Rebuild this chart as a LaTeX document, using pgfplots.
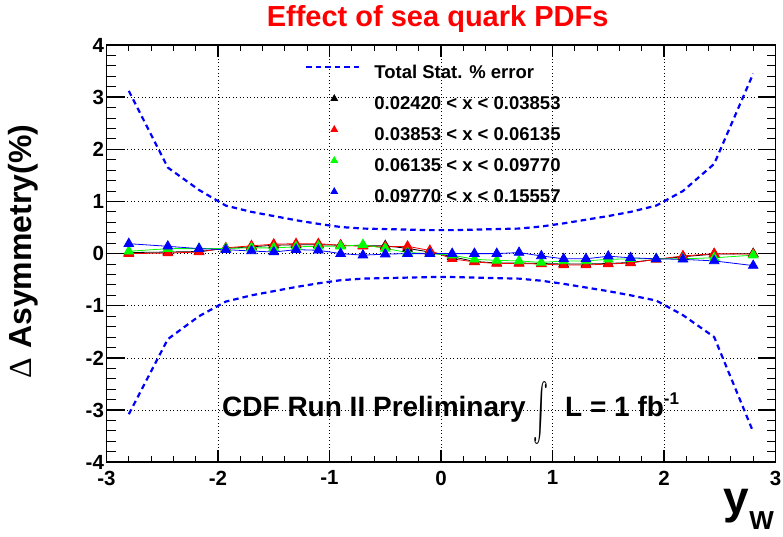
\documentclass[border=0pt]{standalone}
\usepackage{fontspec}
\setmainfont{Liberation Sans}
\newfontfamily\symf{Liberation Serif}
\usepackage{pgfplots}
\pgfplotsset{compat=1.18}
\usetikzlibrary{calc}
\definecolor{rred}{RGB}{255,0,0}
\definecolor{rgreen}{RGB}{0,255,0}
\definecolor{rblue}{RGB}{0,0,255}
\pgfplotsset{
  tri legend/.style={legend image code/.code={
    \path (0pt,0pt) (53pt,0pt);
    \draw[##1, mark size=3.8pt] plot coordinates {(28pt,5.5pt)};}},
  dash legend/.style={legend image code/.code={
    \draw[##1] (0pt,6.5pt) -- (53pt,6.5pt);}},
}
\begin{document}
\begin{tikzpicture}
\begin{axis}[
  scale only axis, width=669pt, height=417.2pt,
  xmin=-3, xmax=3, ymin=-4, ymax=4,
  xtick={-3,-2,...,3}, ytick={-4,-3,...,4},
  minor tick num=4,
  tick align=inside, xtick pos=both, ytick pos=both,
  axis line style={line width=1.6pt},
  grid=major,
  major grid style={black, line width=0.8pt, dash pattern=on 0.9pt off 2.6pt},
  xtick style={black, /pgfplots/major tick length=12pt, /pgfplots/minor tick length=6pt},
  ytick style={black, /pgfplots/major tick length=18pt, /pgfplots/minor tick length=9pt},
  major tick style={line width=1.3pt},
  minor tick style={line width=1pt},
  /pgf/number format/assume math mode=true,
  tick label style={font=\fontsize{20.5}{21}\selectfont\bfseries},
  xticklabel style={yshift=-5pt},
  yticklabel style={xshift=1pt},
  title={Effect of sea quark PDFs},
  title style={font=\fontsize{29}{29}\selectfont\bfseries, text=rred,
    at={(axis description cs:0.495,1)}, anchor=base, yshift=12pt},
  ylabel={{\symf\mdseries Δ} Asymmetry(\%)},
  every axis y label/.style={at={(axis description cs:-0.1248,0.505)}, rotate=90, anchor=center,
    font=\fontsize{32}{32}\selectfont\bfseries},
  xlabel={y\raisebox{-16pt}{\fontsize{26}{26}\selectfont W}},
  every axis x label/.style={at={(axis description cs:1,0)}, anchor=base east,
    xshift=2pt, yshift=-51pt, font=\fontsize{46}{46}\selectfont\bfseries},
  legend style={at={(axis cs:-1.22,3.617)}, anchor=north west, draw=none, fill=none,
    inner sep=0pt, font=\fontsize{18.5}{19}\selectfont\bfseries,
    nodes={inner sep=0pt, text height=13pt, text depth=3pt},
    row sep=13.7pt,
    /tikz/every odd column/.append style={column sep=14pt}},
  legend cell align=left,
  clip=false,
]
\addplot[rblue, line width=2.2pt, dash pattern=on 5.5pt off 4pt, dash legend] coordinates {
(-2.8,3.12) (-2.45,1.65) (-2.17,1.22) (-1.93,0.92) (-1.7,0.8) (-1.5,0.72) (-1.3,0.64)
(-1.1,0.57) (-0.9,0.51) (-0.7,0.48) (-0.5,0.47) (-0.3,0.46) (-0.1,0.45) (0.1,0.45)
(0.3,0.46) (0.5,0.47) (0.7,0.48) (0.9,0.52) (1.1,0.58) (1.3,0.65) (1.5,0.72) (1.7,0.8)
(1.93,0.92) (2.17,1.2) (2.45,1.72) (2.8,3.45)};
\addlegendentry{Total Stat. \% error}
\addplot[rblue, line width=2.2pt, dash pattern=on 5.5pt off 4pt, forget plot] coordinates {
(-2.8,-3.08) (-2.45,-1.64) (-2.17,-1.2) (-1.93,-0.92) (-1.7,-0.8) (-1.5,-0.72) (-1.3,-0.64)
(-1.1,-0.57) (-0.9,-0.51) (-0.7,-0.48) (-0.5,-0.47) (-0.3,-0.46) (-0.1,-0.45) (0.1,-0.45)
(0.3,-0.46) (0.5,-0.47) (0.7,-0.48) (0.9,-0.52) (1.1,-0.58) (1.3,-0.65) (1.5,-0.72) (1.7,-0.8)
(1.93,-0.9) (2.17,-1.18) (2.45,-1.6) (2.8,-3.42)};
% black
\addplot[black, line width=0.8pt, mark=triangle*, mark size=5.5pt, mark options={solid}, tri legend] coordinates {
(-2.8,0.02) (-2.45,0.03) (-2.17,0.04) (-1.93,0.1) (-1.7,0.13) (-1.5,0.16) (-1.3,0.17)
(-1.1,0.17) (-0.9,0.16) (-0.7,0.15) (-0.5,0.15) (-0.3,0.1) (-0.1,0.03) (0.1,-0.06)
(0.3,-0.15) (0.5,-0.18) (0.7,-0.18) (0.9,-0.19) (1.1,-0.2) (1.3,-0.2) (1.5,-0.19)
(1.7,-0.17) (1.93,-0.11) (2.17,-0.06) (2.45,-0.01) (2.8,0.0)};
\addlegendentry{0.02420 < x < 0.03853}
% red
\addplot[rred, line width=0.8pt, mark=triangle*, mark size=5.5pt, mark options={solid}, tri legend] coordinates {
(-2.8,0) (-2.45,0.01) (-2.17,0.03) (-1.93,0.11) (-1.7,0.15) (-1.5,0.18) (-1.3,0.19)
(-1.1,0.19) (-0.9,0.16) (-0.7,0.14) (-0.5,0.13) (-0.3,0.14) (-0.1,0.06) (0.1,-0.1)
(0.3,-0.16) (0.5,-0.19) (0.7,-0.19) (0.9,-0.2) (1.1,-0.22) (1.3,-0.22) (1.5,-0.2)
(1.7,-0.18) (1.93,-0.11) (2.17,-0.045) (2.45,0) (2.8,-0.01)};
\addlegendentry{0.03853 < x < 0.06135}
% green
\addplot[rgreen, line width=0.8pt, mark=triangle*, mark size=5.5pt, mark options={solid}, tri legend] coordinates {
(-2.8,0.045) (-2.45,0.095) (-2.17,0.095) (-1.93,0.1) (-1.7,0.11) (-1.5,0.11) (-1.3,0.13)
(-1.1,0.14) (-0.9,0.14) (-0.7,0.17) (-0.5,0.1) (-0.3,0.02) (-0.1,0) (0.1,-0.03)
(0.3,-0.11) (0.5,-0.13) (0.7,-0.14) (0.9,-0.17) (1.1,-0.14) (1.3,-0.14) (1.5,-0.11)
(1.7,-0.1) (1.93,-0.1) (2.17,-0.1) (2.45,-0.08) (2.8,-0.03)};
\addlegendentry{0.06135 < x < 0.09770}
% blue
\addplot[rblue, line width=0.8pt, mark=triangle*, mark size=5.5pt, mark options={solid}, tri legend] coordinates {
(-2.8,0.19) (-2.45,0.14) (-2.17,0.095) (-1.93,0.076) (-1.7,0.05) (-1.5,0.03) (-1.3,0.076)
(-1.1,0.064) (-0.9,0) (-0.7,-0.03) (-0.5,-0.01) (-0.3,0) (-0.1,0) (0.1,0)
(0.3,0) (0.5,0) (0.7,0.02) (0.9,-0.045) (1.1,-0.1) (1.3,-0.1) (1.5,-0.05)
(1.7,-0.08) (1.93,-0.1) (2.17,-0.11) (2.45,-0.14) (2.8,-0.23)};
\addlegendentry{0.09770 < x < 0.15557}
% annotation
\node[anchor=base west, inner sep=0pt, font=\fontsize{28}{28}\selectfont\bfseries]
  at (axis cs:-1.964,-3.114) {CDF Run II Preliminary};
\node[anchor=center, inner sep=0pt] at (axis cs:0.9,-3.066)
  {\resizebox*{15pt}{63pt}{$\int$}};
\node[anchor=base west, inner sep=0pt, font=\fontsize{28}{28}\selectfont\bfseries]
  at (axis cs:1.112,-3.114) {L = 1 fb\raisebox{12pt}{\fontsize{17}{17}\selectfont -1}};
\coordinate (ll) at (rel axis cs:0,0);
\coordinate (ur) at (rel axis cs:1,1);
\end{axis}
\pgfresetboundingbox
\path[use as bounding box] ($(ll)+(-106.5pt,-73.8pt)$) rectangle ($(ur)+(7.5pt,45pt)$);
\end{tikzpicture}
\end{document}
